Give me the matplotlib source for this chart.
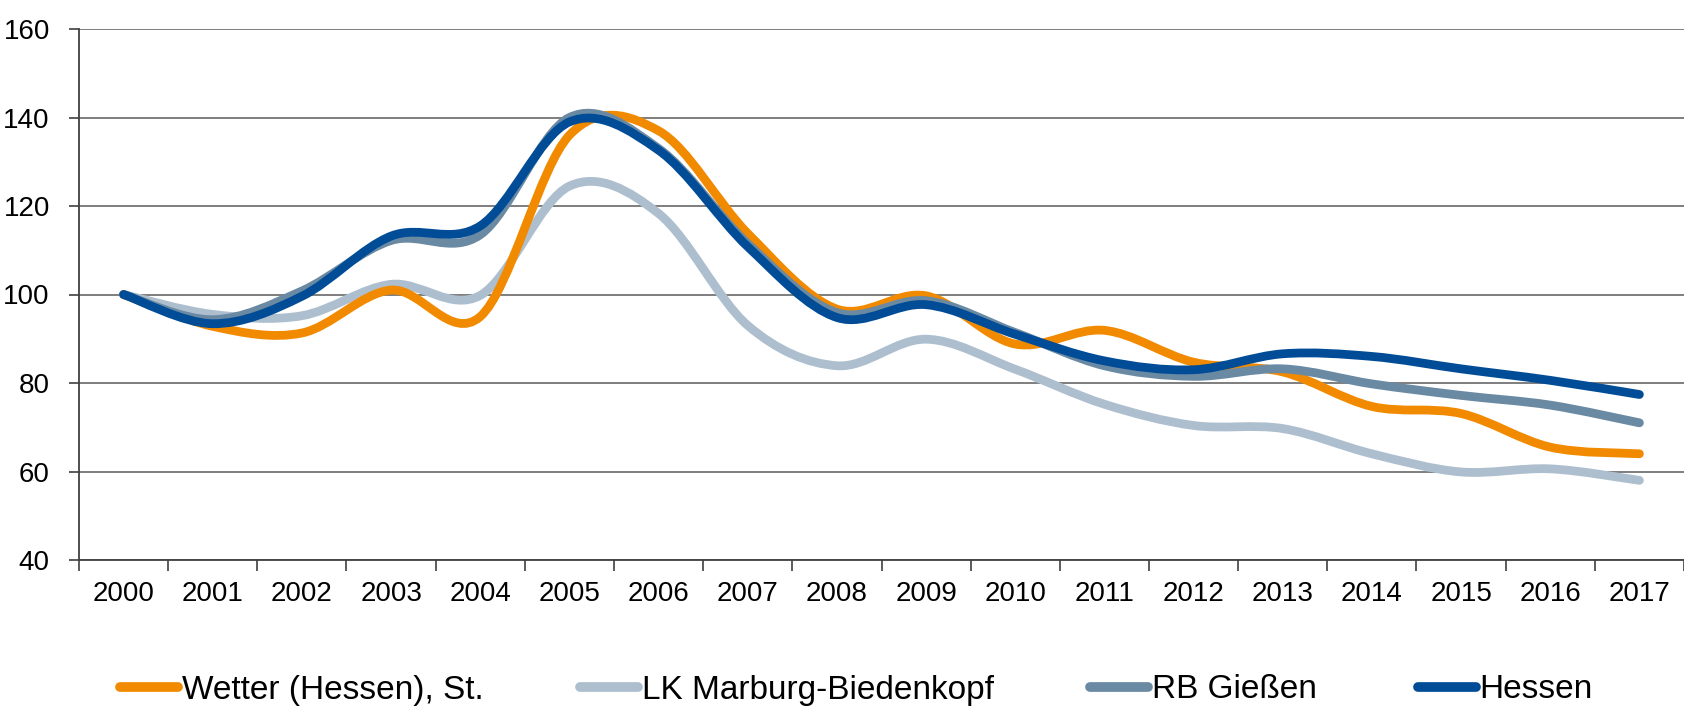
import matplotlib
matplotlib.use("Agg")
import matplotlib.pyplot as plt
from matplotlib.path import Path
from matplotlib.patches import PathPatch
from matplotlib.lines import Line2D
from matplotlib import font_manager
import numpy as np

# ---------------- data ----------------
years = [str(y) for y in range(2000, 2018)]
wetter = [100, 92.8, 91.3, 101.0, 95.0, 136.0, 137.0, 113.8, 96.7, 99.7, 88.8, 91.9, 84.7, 82.5, 74.7, 73.1, 65.5, 64.0]
lk_marburg = [100, 95.5, 95.2, 102.3, 99.8, 124.5, 118.3, 93.0, 83.9, 89.9, 83.1, 75.2, 70.4, 69.7, 64.0, 59.9, 60.6, 58.0]
rb_giessen = [100, 94.3, 100.8, 112.2, 113.5, 140.0, 133.0, 111.5, 95.9, 98.6, 91.4, 83.9, 81.5, 83.2, 79.8, 77.2, 75.0, 71.0]
hessen = [100, 93.4, 99.6, 113.2, 115.5, 139.0, 132.6, 110.8, 94.8, 97.7, 91.0, 85.0, 83.0, 86.6, 86.0, 83.2, 80.6, 77.4]

series_names = ["Wetter (Hessen), St.", "LK Marburg-Biedenkopf", "RB Gießen", "Hessen"]
series_values = [wetter, lk_marburg, rb_giessen, hessen]
colors = ["#F28A00", "#ADBFCE", "#6A89A3", "#004C97"]
zorders = [3, 2, 4, 5]

yticks = [40, 60, 80, 100, 120, 140, 160]

# ---------------- fonts ----------------
avail = {f.name for f in font_manager.fontManager.ttflist}
fam = [f for f in ["Liberation Sans Narrow", "Liberation Sans", "DejaVu Sans"] if f in avail]
plt.rcParams["font.family"] = fam

W, H = 1684, 715
fig = plt.figure(figsize=(W / 100, H / 100), dpi=100)
ax = fig.add_axes([79 / W, 1 - 560 / H, 1 - 79 / W, (560 - 29) / H])


def smooth_path(xs, ys):
    pts = np.column_stack([xs, ys]).astype(float)
    n = len(pts)
    verts = [pts[0]]
    codes = [Path.MOVETO]
    for i in range(n - 1):
        p0 = pts[i - 1] if i > 0 else pts[i]
        p1 = pts[i]
        p2 = pts[i + 1]
        p3 = pts[i + 2] if i + 2 < n else pts[i + 1]
        c1 = p1 + (p2 - p0) / 6.0
        c2 = p2 - (p3 - p1) / 6.0
        verts += [c1, c2, p2]
        codes += [Path.CURVE4] * 3
    return Path(verts, codes)


x = np.arange(len(years))
for name, vals, col, z in zip(series_names, series_values, colors, zorders):
    patch = PathPatch(smooth_path(x, vals), facecolor="none", edgecolor=col,
                      linewidth=6.3, capstyle="round", joinstyle="round", zorder=z)
    ax.add_patch(patch)

ax.set_xlim(-0.5, len(years) - 0.5)
ax.set_ylim(40, 160)
ax.set_yticks(yticks)
ax.set_xticks(x)
ax.set_xticklabels(years)
ax.set_xticks(np.arange(-0.5, len(years), 1.0), minor=True)

ax.grid(axis="y", color="#747474", linewidth=1.3, zorder=0)
ax.set_axisbelow(True)
for s in ["top", "right"]:
    ax.spines[s].set_visible(False)
ax.spines["left"].set_color("#404040")
ax.spines["left"].set_linewidth(1.3)
ax.spines["bottom"].set_color("#404040")
ax.spines["bottom"].set_linewidth(1.3)

ax.tick_params(axis="y", length=7, width=1.2, color="#404040", pad=14, labelsize=20, labelcolor="black")
ax.tick_params(axis="x", which="major", length=0, pad=15, labelsize=20, labelcolor="black")
ax.tick_params(axis="x", which="minor", length=8, width=1.2, color="#404040")

# legend entries placed at their positions along the bottom
anchors_x = [120, 580, 1090, 1418]
for name, col, ax_x in zip(series_names, colors, anchors_x):
    h = Line2D([0], [0], color=col, linewidth=7, solid_capstyle="round")
    fig.legend([h], [name], loc="center left", bbox_to_anchor=(ax_x / W, 1 - 690 / H),
               frameon=False, fontsize=24, handlelength=1.75, handletextpad=0.1,
               borderpad=0, borderaxespad=0)

fig.savefig("out.png", dpi=100)
